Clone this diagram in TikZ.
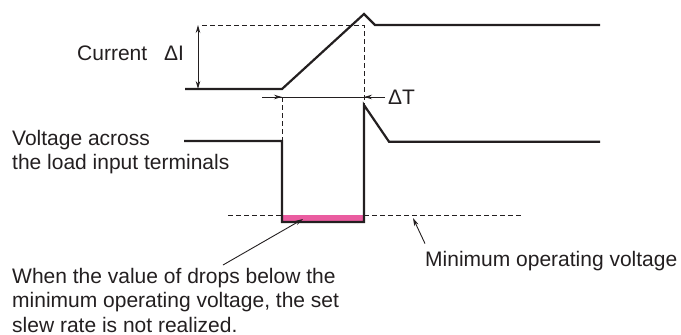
\documentclass[tikz,border=0pt]{standalone}
\usepackage{fontspec}
\setmainfont{Liberation Sans}
\usetikzlibrary{arrows.meta}
\definecolor{ink}{RGB}{35,31,32}
\definecolor{dipfill}{RGB}{234,92,160}
\tikzset{
  wave/.style={ink, line width=2.2pt, line join=miter},
  guide/.style={ink, line width=0.8pt, dash pattern=on 5pt off 3pt},
  pointer/.style={ink, line width=0.9pt, -{Stealth[length=8pt,width=4.5pt]}},
  txt/.style={inner sep=0pt, text=ink, font=\fontsize{21}{24.5}\selectfont}
}
\begin{document}
\begin{tikzpicture}[x=1pt, y=-1pt]
    \useasboundingbox (0,0) rectangle (681,335);
    % guide lines
    \draw[guide] (202,25) -- (364,25) -- (364,105);
    \draw[guide] (282,97) -- (282,141);
    \draw[guide] (228,215) -- (523,215);
    \fill[dipfill] (282,215) rectangle (364,222);
    % current and voltage
    \draw[wave] (185,89) -- (282,89) -- (364,14) -- (375,25) -- (600,25);
    \draw[wave] (184,141) -- (282,141) -- (282,222) -- (364,222) -- (364,105) -- (389,141.7) -- (600,141.7);
    % delta I and delta T
    \draw[ink, line width=0.9pt, {Stealth[length=8pt,width=4.5pt]}-{Stealth[length=8pt,width=4.5pt]}] (198,25) -- (198,89);
    \draw[ink, line width=0.9pt] (262,97) -- (385,97);
    \draw[pointer] (262,97) -- (282,97);
    \draw[pointer] (385,97) -- (364,97);
    \node[txt, anchor=base west] (current) at (77,60.7) {Current};
    \node[txt, anchor=base west] (deltaI) at (164,60.7) {ΔI};
    \node[txt, anchor=west] (deltaT) at (388,97) {ΔT};
    \node[txt, anchor=north west, align=left] (voltage) at (12,130) {Voltage across\\the load input terminals};
    \node[txt, anchor=north west, align=left] (note) at (12,268) {When the value of drops below the\\minimum operating voltage, the set\\slew rate is not realized.};
    \node[txt, anchor=base west] (minvolt) at (425,266) {Minimum operating voltage};
    % pointers
    \coordinate (dip) at (303,219);
    \coordinate (minline) at (413,218);
    \draw[pointer] ([xshift=211pt,yshift=3pt]note.north west) -- (dip);
    \draw[pointer] ([yshift=7pt]minvolt.north west) -- (minline);
\end{tikzpicture}
\end{document}
